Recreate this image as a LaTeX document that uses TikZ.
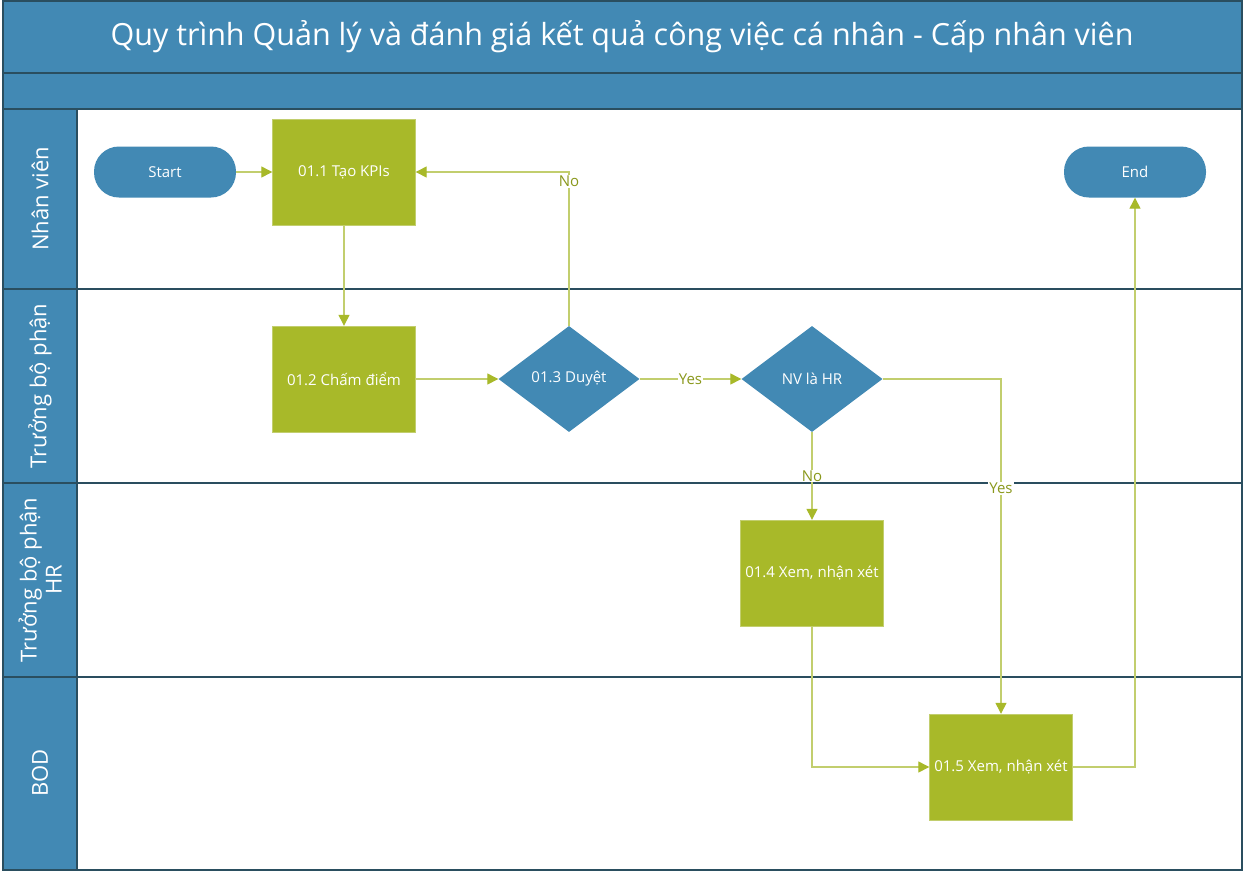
\documentclass[tikz,border=0pt]{standalone}
\usepackage{fontspec}
\setmainfont{Open Sans}
\usetikzlibrary{arrows.meta,shapes.geometric}
\definecolor{laneblue}{RGB}{66,137,180}
\definecolor{boxgreen}{RGB}{168,185,41}
\definecolor{linegreen}{RGB}{194,206,110}
\definecolor{framedark}{RGB}{42,78,95}
\definecolor{labelgreen}{RGB}{138,152,28}

\begin{document}
\begin{tikzpicture}[x=1pt, y=-1pt,
  >={Triangle[length=11pt,width=11pt,color=boxgreen]},
  task node/.style={rectangle, fill=boxgreen, draw=linegreen, minimum width=143pt, minimum height=106pt, text=white, font=\fontsize{15}{17}\selectfont},
  test node/.style={diamond, fill=laneblue, minimum width=141pt, minimum height=106pt, inner sep=0pt, text=white, font=\fontsize{15}{17}\selectfont},
  end node/.style={rectangle, rounded corners=25pt, fill=laneblue, minimum width=142pt, minimum height=51pt, text=white, font=\fontsize{15}{17}\selectfont},
  lane node/.style={rotate=90, text=white, align=center, font=\fontsize{22}{25}\selectfont},
  flow/.style={->, draw=linegreen, line width=1.3pt},
  answer/.style={fill=white, inner sep=1pt, text=labelgreen, font=\fontsize{15}{17}\selectfont}]
  \useasboundingbox[fill=white] (0,0) rectangle (1245,873);
  \fill[laneblue] (3,1) rectangle (1242,109);
  \fill[laneblue] (3,109) rectangle (77,870);
  \draw[framedark, line width=1.2pt] (3,1) rectangle (1242,870);
  \draw[framedark, line width=1.2pt] (3,73) -- (1242,73);
  \draw[framedark, line width=1.2pt] (3,109) -- (1242,109);
  \draw[framedark, line width=1.2pt] (3,289) -- (1242,289);
  \draw[framedark, line width=1.2pt] (3,483) -- (1242,483);
  \draw[framedark, line width=1.2pt] (3,677) -- (1242,677);
  \draw[framedark, line width=1.2pt] (77,109) -- (77,870);
  \node[text=white, font=\fontsize{30.5}{34}\selectfont] (title) at (622,37) {Quy trình Quản lý và đánh giá kết quả công việc cá nhân - Cấp nhân viên};
  \node[lane node] (lane1) at (40,199) {Nhân viên};
  \node[lane node] (lane2) at (40,386) {Trưởng bộ phận};
  \node[lane node] (lane3) at (40,580) {Trưởng bộ phận\\HR};
  \node[lane node] (lane4) at (40,773) {BOD};
  \node[end node] (start) at (165,172) {Start};
  \node[task node] (t11) at (344,172) {01.1 Tạo KPIs};
  \node[end node] (end) at (1135,172) {End};
  \node[task node] (t12) at (344,379) {01.2 Chấm điểm};
  \node[test node] (d13) at (569,379) {01.3 Duyệt};
  \node[test node] (dhr) at (812,379) {NV là HR};
  \node[task node] (t14) at (812,573) {01.4 Xem, nhận xét};
  \node[task node] (t15) at (1001,767) {01.5 Xem, nhận xét};
  \path[flow]
    (start) edge (t11)
    (t11) edge (t12)
    (t12) edge (d13)
    (d13) edge node[answer, pos=0.5] {Yes} (dhr)
    (dhr) edge node[answer, pos=0.5] {No} (t14);
  \draw[flow] (d13.north) |- node[answer, pos=0.47] {No} (t11.east);
  \draw[flow] (dhr.east) -| node[answer, pos=0.663] {Yes} (t15.north);
  \draw[flow] (t14.south) |- (t15.west);
  \draw[flow] (t15.east) -| (end.south);
\end{tikzpicture}
\end{document}
